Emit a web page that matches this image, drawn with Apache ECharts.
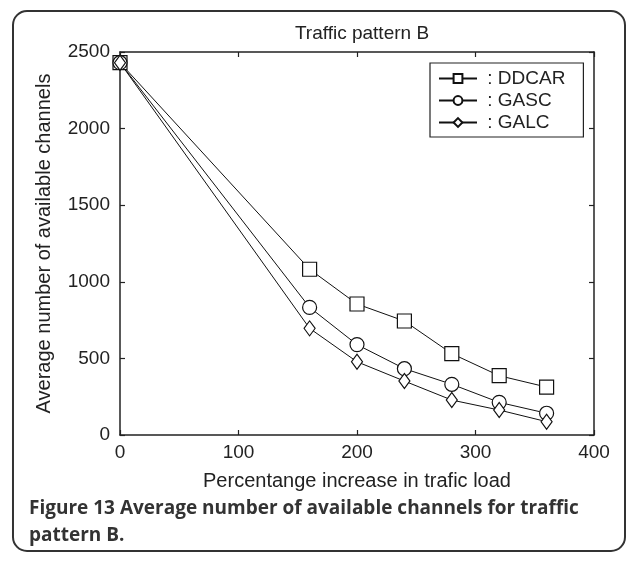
<!DOCTYPE html>
<html>
<head>
<meta charset="utf-8">
<script src="https://cdn.jsdelivr.net/npm/echarts@6/dist/echarts.min.js"></script>
<style>
html, body { margin: 0; padding: 0; background: #fff; }
#chart { width: 637px; height: 562px; }
</style>
</head>
<body>
<div id="chart"></div>
<script>
// load values (percent increase) and available channels
var loads = [0, 160, 200, 240, 280, 320, 360]
var ddcar = [2430, 1082, 855, 744, 531, 387, 313]
var gasc = [2430, 833, 590, 433, 331, 213, 142]
var galc = [2430, 696, 478, 352, 228, 163, 87]

function pairs (ys) {
  return loads.map(function (x, i) { return [x, ys[i]] })
}

var font = 'Liberation Sans, Arial, sans-serif'
var chart = echarts.init(document.getElementById('chart'))

var baseAxis = {
  type: 'value',
  splitLine: { show: false },
  axisLine: { show: true, onZero: false, lineStyle: { color: '#222', width: 1.5 } },
  axisTick: { show: true, inside: true, length: 5, lineStyle: { color: '#222', width: 1.2 } }
}
var plain = function (v) { return String(v) }

var option = {
  animation: false,
  backgroundColor: '#fff',
  title: {
    text: 'Traffic pattern B',
    left: 357,
    top: 19,
    textAlign: 'center',
    textStyle: { fontFamily: font, fontSize: 19, fontWeight: 'normal', color: '#222' }
  },
  grid: { left: 120, top: 52, width: 474, height: 383 },
  legend: {
    orient: 'vertical',
    left: 430,
    top: 63,
    padding: [6, 18, 5, 8],
    itemWidth: 38,
    itemHeight: 11,
    itemGap: 3,
    borderColor: '#222',
    borderWidth: 1.2,
    backgroundColor: '#fff',
    formatter: function (name) { return ' : ' + name },
    textStyle: { fontFamily: font, fontSize: 19, color: '#222' },
    data: ['DDCAR', 'GASC', 'GALC']
  },
  xAxis: [
    Object.assign({}, baseAxis, {
      min: 0, max: 400, interval: 100,
      name: 'Percentange increase in trafic load',
      nameLocation: 'middle',
      nameGap: 36,
      nameTextStyle: { fontFamily: font, fontSize: 20, color: '#222' },
      axisLabel: { fontFamily: font, fontSize: 19, color: '#222', margin: 8, formatter: plain }
    }),
    Object.assign({}, baseAxis, {
      min: 0, max: 400, interval: 100, position: 'top',
      axisLabel: { show: false }
    })
  ],
  yAxis: [
    Object.assign({}, baseAxis, {
      min: 0, max: 2500, interval: 500,
      name: 'Average number of available channels',
      nameLocation: 'middle',
      nameGap: 66,
      nameTextStyle: { fontFamily: font, fontSize: 20, color: '#222' },
      axisLabel: { fontFamily: font, fontSize: 19, color: '#222', margin: 10, formatter: plain }
    }),
    Object.assign({}, baseAxis, {
      min: 0, max: 2500, interval: 500, position: 'right',
      axisLabel: { show: false }
    })
  ],
  graphic: [
    {
      type: 'rect',
      shape: { x: 13, y: 11, width: 612, height: 540, r: 14 },
      style: { fill: 'none', stroke: '#333', lineWidth: 2 },
      z: 100
    },
    {
      type: 'text',
      left: 29,
      top: 495,
      style: {
        text: 'Figure 13 Average number of available channels for traffic\npattern B.',
        fontFamily: 'Open Sans, sans-serif',
        fontWeight: 'bold',
        fontSize: 19,
        lineHeight: 27,
        fill: '#333'
      }
    }
  ],
  series: [
    {
      name: 'DDCAR',
      type: 'line',
      data: pairs(ddcar),
      symbol: 'rect',
      symbolSize: 14,
      itemStyle: { color: '#fff', borderColor: '#111', borderWidth: 1.2 },
      lineStyle: { color: '#111', width: 1 }
    },
    {
      name: 'GASC',
      type: 'line',
      data: pairs(gasc),
      symbol: 'circle',
      symbolSize: 14,
      itemStyle: { color: '#fff', borderColor: '#111', borderWidth: 1.2 },
      lineStyle: { color: '#111', width: 1 }
    },
    {
      name: 'GALC',
      type: 'line',
      data: pairs(galc),
      symbol: 'diamond',
      symbolSize: [11, 15],
      itemStyle: { color: '#fff', borderColor: '#111', borderWidth: 1.2 },
      lineStyle: { color: '#111', width: 1 }
    }
  ]
}

chart.setOption(option)
</script>
</body>
</html>
